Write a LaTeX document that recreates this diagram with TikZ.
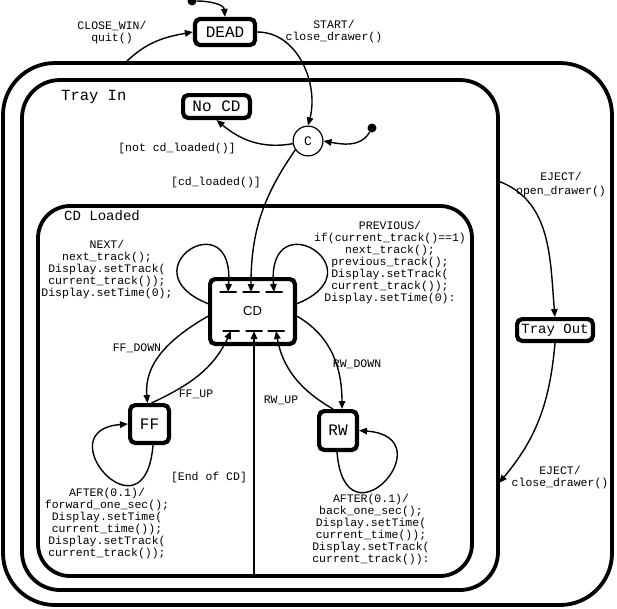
\documentclass[tikz,border=0pt]{standalone}
\usepackage{fontspec}
\setmonofont{Liberation Mono}
\setsansfont{Liberation Sans}
\usetikzlibrary{arrows.meta,calc}
\tikzset{
  container/.style={draw, line width=3.8pt, rounded corners=#1, inner sep=0pt},
  statebox/.style={draw, line width=4.2pt, rounded corners=5pt, inner sep=0pt, font=\ttfamily\fontsize{16}{16}\selectfont},
  lbl/.style={font=\ttfamily\fontsize{11.5}{12}\selectfont, align=center, inner sep=0pt},
  title/.style={font=\ttfamily\fontsize{#1}{#1}\selectfont, inner sep=0pt, anchor=west},
  trans/.style={line width=1.4pt, -{Triangle[length=8pt,width=6.5pt]}},
  cdbar/.style={draw, line width=1.6pt, minimum width=17pt, minimum height=0pt, inner sep=0pt},
  initdot/.style={fill, circle, minimum size=9pt, inner sep=0pt},
  cond/.style={draw, circle, line width=1.2pt, minimum size=29.8pt, inner sep=0pt, font=\ttfamily\fontsize{13}{13}\selectfont},
}
\begin{document}
\begin{tikzpicture}[x=1pt,y=1pt]
\useasboundingbox (0,0) rectangle (617,-608);
% containers
\node[container=52pt, minimum width=609pt, minimum height=542pt] (outer) at (307.5,-334) {};
\node[container=38pt, minimum width=476pt, minimum height=510pt] (TrayIn) at (260,-335) {};
\node[container=32pt, minimum width=434pt, minimum height=370pt] (CDL) at (255,-391) {};
\node[title=15.5] (tTrayIn) at (61,-97) {Tray In};
\node[title=14] (tCDL) at (64,-216) {CD Loaded};
% states
\node[statebox, minimum width=60pt, minimum height=26pt] (DEAD) at (225,-32) {DEAD};
\node[statebox, minimum width=66.8pt, minimum height=22.8pt] (NoCD) at (216.5,-106.5) {No CD};
\node[statebox, minimum width=84.8pt, minimum height=64.8pt, font=\sffamily\fontsize{13}{13}\selectfont] (CD) at (252.5,-311.5) {CD};
\node[statebox, minimum width=38.8pt, minimum height=37.8pt] (FF) at (149.5,-424) {FF};
\node[statebox, minimum width=37.8pt, minimum height=38.8pt] (RW) at (338,-430.5) {RW};
\node[statebox, minimum width=75.8pt, minimum height=21.8pt, font=\ttfamily\fontsize{14}{14}\selectfont] (TrayOut) at (555,-330) {Tray Out};
\node[cond] (C) at (308,-141) {C};
\node[initdot] (init1) at (192,-1) {};
\node[initdot] (init2) at (372,-128) {};
% bars in CD
\node[cdbar] (tb1) at (228,-292) {};
\node[cdbar] (tb2) at (251,-292) {};
\node[cdbar] (tb3) at (274,-292) {};
\node[cdbar] (bb1) at (231,-331) {};
\node[cdbar] (bb2) at (254,-331) {};
\node[cdbar] (bb3) at (276,-331) {};
% free ends on container borders
\coordinate (cw) at (125,-63);
\coordinate (ej1) at (498,-181);
\coordinate (ej2) at (499,-483);
\coordinate (eoc) at (254,-576);
% transitions
\draw[trans] (init1) to[out=0, in=95] (DEAD.north);
\draw[trans] (cw) to[out=45, in=190] (DEAD.west);
\draw[trans] (DEAD.east) to[out=0, in=75] (C.north);
\draw[trans] (init2) to[out=240, in=-10] (C.east);
\draw[trans] (C.190) to[out=190, in=-40] (NoCD.south);
\draw[trans] (C.215) to[out=235, in=90] (tb2.center);
\draw[trans] (CD.170) .. controls (125,-270) and (235,-200) .. (tb1.center);
\draw[trans] (CD.10) .. controls (380,-270) and (267,-200) .. (tb3.center);
\draw[trans] (CD.186) to[out=210, in=95] ([xshift=-2pt]FF.north);
\draw[trans] ([xshift=2pt]FF.north) to[out=25, in=-115] (bb1.center);
\draw[trans] (CD.-6) to[out=-30, in=90] ([xshift=4pt]RW.north);
\draw[trans] ([xshift=-5pt]RW.north) to[out=150, in=-80] (bb3.center);
\draw[trans] (eoc) -- (bb2.center);
\draw[trans] ([xshift=3.5pt]FF.south) .. controls (145,-545) and (45,-430) .. (FF.west);
\draw[trans] ([xshift=-1pt]RW.south) .. controls (345,-552) and (447,-437) .. (RW.east);
\draw[trans] (ej1) to[out=-20, in=95] (TrayOut.north);
\draw[trans] (TrayOut.south) to[out=-95, in=50] (ej2);
% labels
\node[lbl] (l1) at (112,-33) {CLOSE\_WIN/\\quit()};
\node[lbl] (l2) at (334,-32) {START/\\close\_drawer()};
\node[lbl] (l3) at (177,-149) {[not cd\_loaded()]};
\node[lbl] (l4) at (216,-183) {[cd\_loaded()]};
\node[lbl] (l5) at (107,-270) {NEXT/\\next\_track();\\Display.setTrack(\\current\_track());\\Display.setTime(0);};
\node[lbl] (l6) at (390,-263) {PREVIOUS/\\if(current\_track()==1)\\next\_track();\\previous\_track();\\Display.setTrack(\\current\_track());\\Display.setTime(0):};
\node[lbl] (l7) at (137,-348) {FF\_DOWN};
\node[lbl] (l8) at (196,-394) {FF\_UP};
\node[lbl] (l9) at (281,-400) {RW\_UP};
\node[lbl] (l10) at (357,-364) {RW\_DOWN};
\node[lbl] (l11) at (209,-478) {[End of CD]};
\node[lbl] (l12) at (107,-524) {AFTER(0.1)/\\forward\_one\_sec();\\Display.setTime(\\current\_time());\\Display.setTrack(\\current\_track());};
\node[lbl] (l13) at (371,-530) {AFTER(0.1)/\\back\_one\_sec();\\Display.setTime(\\current\_time());\\Display.setTrack(\\current\_track()):};
\node[lbl, font=\ttfamily\fontsize{11.5}{14}\selectfont] (l14) at (561,-184.5) {EJECT/\\open\_drawer()};
\node[lbl] (l15) at (560,-477.5) {EJECT/\\close\_drawer()};
\end{tikzpicture}
\end{document}
